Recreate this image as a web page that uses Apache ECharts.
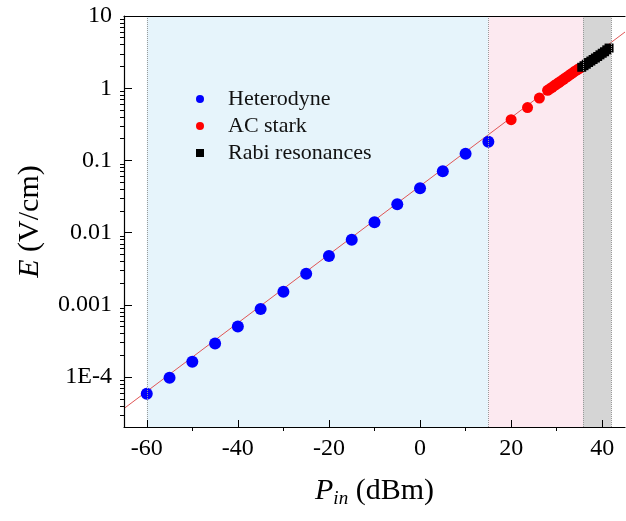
<!DOCTYPE html>
<html>
<head>
<meta charset="utf-8">
<script src="https://cdn.jsdelivr.net/npm/echarts@6/dist/echarts.min.js"></script>
<style>
html,body{margin:0;padding:0;background:#fff;}
#main{width:626px;height:521px;}
</style>
</head>
<body>
<div id="main"></div>
<script>
// P_in (dBm) and E (V/cm)
var hetP = [-60, -55, -50, -45, -40, -35, -30, -25, -20, -15, -10, -5, 0, 5, 10, 15];
var hetE = [5.9e-5, 9.8e-5, 1.63e-4, 2.93e-4, 5.04e-4, 8.75e-4, 1.52e-3, 2.7e-3, 4.74e-3, 8.0e-3, 0.0139, 0.0247, 0.0411, 0.0707, 0.124, 0.182];
var acP = [20, 23.6, 26.2, 28, 28.5, 29, 29.5, 30, 30.5, 31, 31.5, 32, 32.5, 33, 33.5, 34, 34.5, 35];
var acE = [0.367, 0.54, 0.73, 0.935, 0.98, 1.03, 1.09, 1.14, 1.2, 1.26, 1.33, 1.4, 1.47, 1.55, 1.63, 1.72, 1.8, 1.88];
var rabiP = [35.5, 36, 36.5, 37, 37.5, 38, 38.5, 39, 39.5, 40, 40.5, 41, 41.5];
var rabiE = [1.95, 2.05, 2.15, 2.27, 2.38, 2.5, 2.62, 2.75, 2.9, 3.05, 3.2, 3.4, 3.6];
var fitP = [-65, 45];
var fitE = [3.68e-5, 6.0];

var xTicks = [-60, -40, -20, 0, 20, 40];
var xMinor = [-50, -30, -10, 10, 30];
var yTickLabels = ['1E-4', '0.001', '0.01', '0.1', '1', '10'];
var bandEdges = [-60, 15, 35.8, 42];
var bandColors = ['#e6f4fb', '#fce9f0', '#d5d5d5'];

var font = 'Liberation Serif';
var lg = function(v){ return Math.log10(v); };
function pairs(xs, ys){
	var out = [];
	for(var i = 0; i < xs.length; i++){
		out.push([xs[i], lg(ys[i])]);
	}
	return out;
}

// log axis ticks: decades + 2..9 minor ticks
var yMajor = [];
var yMinor = [];
for(var d = -5; d <= 0; d++){
	if(d > -5) yMajor.push(d);
	for(var k = 2; k <= 9; k++){
		var v = d + lg(k);
		if(v > -4.69) yMinor.push(v);
	}
}
yMajor.push(1);

var areas = [];
for(var i = 0; i < bandColors.length; i++){
	areas.push([{xAxis: bandEdges[i], itemStyle: {color: bandColors[i]}}, {xAxis: bandEdges[i + 1]}]);
}
var edgeLines = bandEdges.map(function(x){ return {xAxis: x}; });

var chart = echarts.init(document.getElementById('main'));
var xBase = {type: 'value', min: -65, max: 45, gridIndex: 0, z: 5, splitLine: {show: false}};
var yBase = {type: 'value', min: -4.69, max: 1, gridIndex: 0, z: 5, splitLine: {show: false}};
// helper axes: 0 sits on the plot edge, minor-tick axes snap to it with onZero
var helper = {type: 'value', min: 0, max: 1, gridIndex: 0, show: false};

var option = {
	backgroundColor: '#fff',
	animation: false,
	grid: {left: 124, top: 16, right: 1, bottom: 94},
	legend: {
		orient: 'vertical',
		left: 191,
		top: 83,
		itemWidth: 8,
		itemHeight: 8,
		itemGap: 5,
		data: [
			{name: 'Heterodyne', icon: 'circle'},
			{name: 'AC stark', icon: 'circle'},
			{name: 'Rabi resonances', icon: 'rect'}
		],
		formatter: function(name){ return '{t|' + name + '}'; },
		textStyle: {
			rich: {t: {fontFamily: font, fontSize: 22, color: '#111', padding: [0, 0, 0, 19]}}
		}
	},
	xAxis: [
		Object.assign({}, xBase, {
			position: 'bottom',
			axisLine: {onZero: false, lineStyle: {color: '#000', width: 1.2}},
			axisTick: {inside: true, length: 7, customValues: xTicks, lineStyle: {color: '#000'}},
			axisLabel: {customValues: xTicks, fontFamily: font, fontSize: 24, color: '#000', margin: 10},
			name: '{i|P}{s|in} (dBm)',
			nameLocation: 'middle',
			nameGap: 48,
			nameTextStyle: {
				fontFamily: font, fontSize: 30, color: '#000',
				rich: {
					i: {fontFamily: font, fontSize: 30, fontStyle: 'italic', color: '#000'},
					s: {fontFamily: font, fontSize: 19, fontStyle: 'italic', color: '#000', padding: [14, 0, 0, 0]}
				}
			}
		}),
		Object.assign({}, xBase, {
			axisLine: {show: false, onZero: true, onZeroAxisIndex: 2},
			axisTick: {show: true, inside: true, length: 4, customValues: xMinor, lineStyle: {color: '#000'}},
			axisLabel: {show: false}
		}),
		Object.assign({}, xBase, {
			position: 'top',
			axisLine: {onZero: false, lineStyle: {color: '#000', width: 1.2}},
			axisTick: {show: false},
			axisLabel: {show: false}
		}),
		helper
	],
	yAxis: [
		Object.assign({}, yBase, {
			position: 'left',
			axisLine: {onZero: false, lineStyle: {color: '#000', width: 1.2}},
			axisTick: {inside: true, length: 8, customValues: yMajor, lineStyle: {color: '#000'}},
			axisLabel: {
				customValues: yMajor, fontFamily: font, fontSize: 24, color: '#000', margin: 12,
				formatter: function(v){ return yTickLabels[Math.round(v) + 4]; }
			},
			name: '{i|E} (V/cm)',
			nameLocation: 'middle',
			nameGap: 79,
			nameRotate: 90,
			nameTextStyle: {
				fontFamily: font, fontSize: 30, color: '#000',
				rich: {i: {fontFamily: font, fontSize: 30, fontStyle: 'italic', color: '#000'}}
			}
		}),
		Object.assign({}, yBase, {
			axisLine: {show: false, onZero: true, onZeroAxisIndex: 3},
			axisTick: {show: true, inside: true, length: 4, customValues: yMinor, lineStyle: {color: '#000'}},
			axisLabel: {show: false}
		}),
		helper
	],
	series: [
		{
			name: 'bands',
			type: 'line',
			data: [],
			silent: true,
			z: 1,
			markArea: {silent: true, data: areas},
			markLine: {
				silent: true,
				symbol: 'none',
				label: {show: false},
				lineStyle: {color: '#9a9a9a', type: 'dotted', width: 1},
				data: edgeLines
			}
		},
		{
			name: 'fit',
			type: 'line',
			data: pairs(fitP, fitE),
			showSymbol: false,
			silent: true,
			z: 2,
			lineStyle: {color: '#e05555', width: 1}
		},
		{
			name: 'Heterodyne',
			type: 'scatter',
			data: pairs(hetP, hetE),
			symbol: 'circle',
			symbolSize: 12,
			z: 3,
			itemStyle: {color: '#0000ff', opacity: 1}
		},
		{
			name: 'AC stark',
			type: 'scatter',
			data: pairs(acP, acE),
			symbol: 'circle',
			symbolSize: 11,
			z: 3,
			itemStyle: {color: '#ff0000', opacity: 1}
		},
		{
			name: 'Rabi resonances',
			type: 'scatter',
			data: pairs(rabiP, rabiE),
			symbol: 'rect',
			symbolSize: 9,
			z: 4,
			itemStyle: {color: '#000', opacity: 1}
		}
	]
};

chart.setOption(option);
</script>
</body>
</html>
